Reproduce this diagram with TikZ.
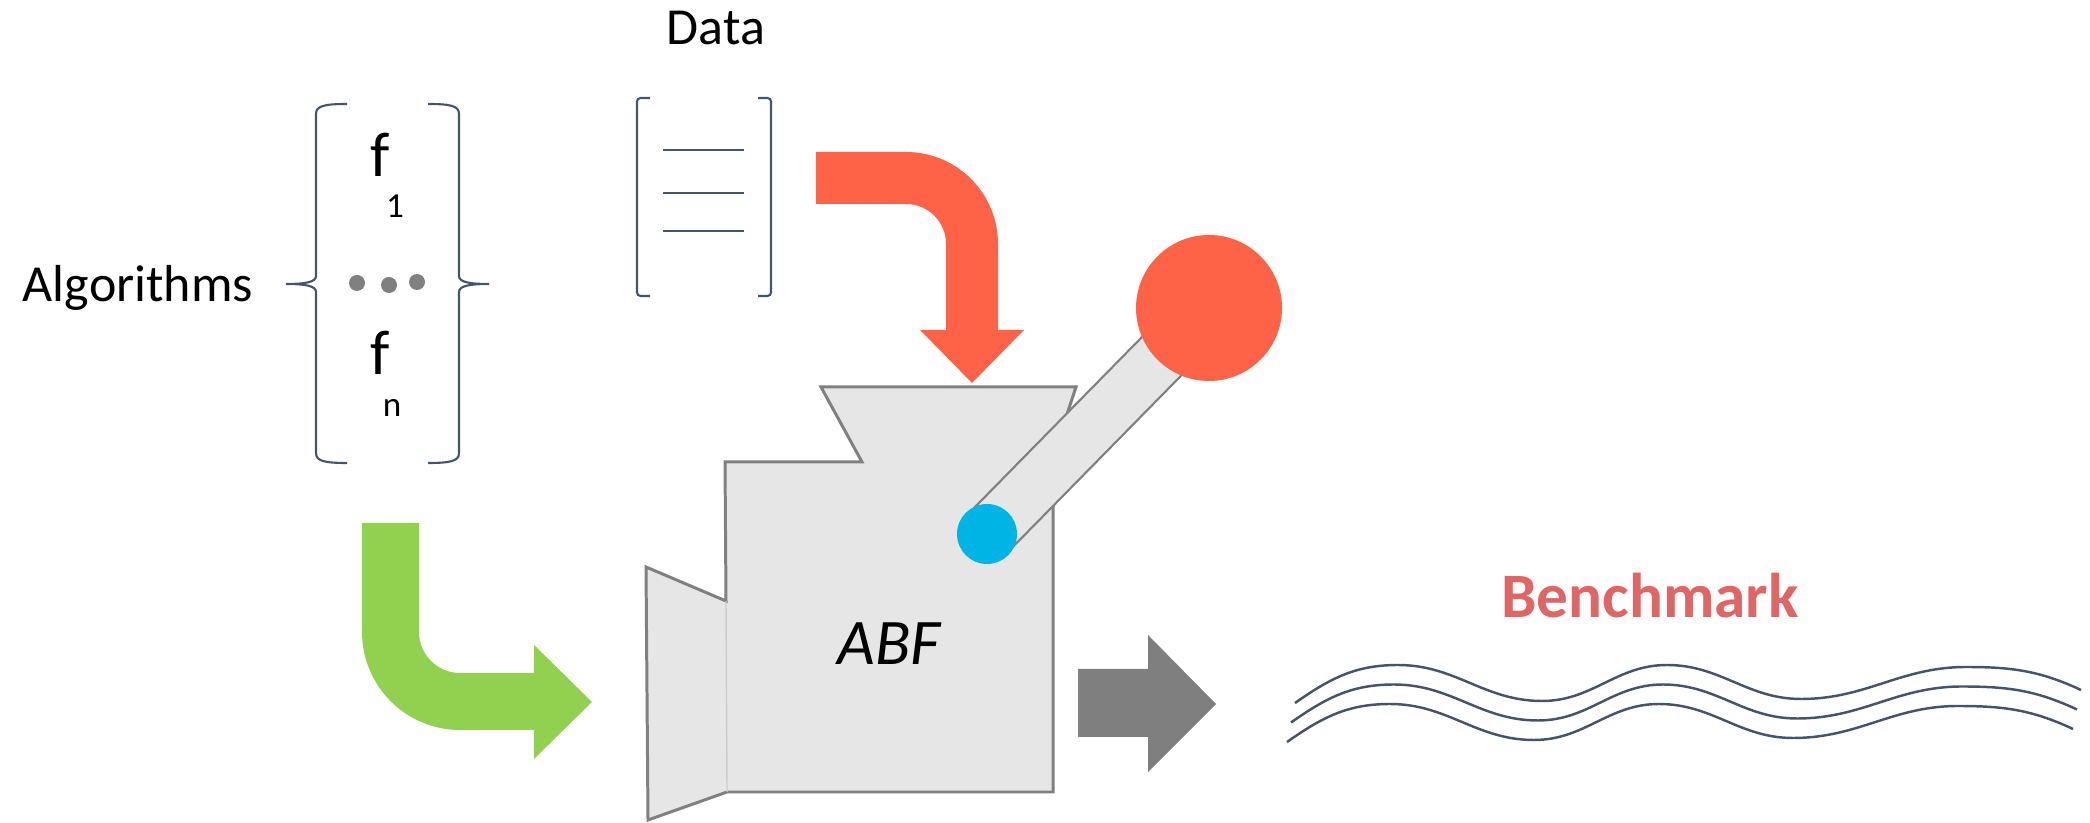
\documentclass[tikz,border=0pt]{standalone}
\usepackage{fontspec}
\setmainfont{Carlito}
\usepackage{tikz}
\usetikzlibrary{calc}
\definecolor{slate}{RGB}{68,84,106}
\definecolor{tomatored}{RGB}{255,99,71}
\definecolor{leafgreen}{RGB}{146,208,80}
\definecolor{midgray}{RGB}{127,127,127}
\definecolor{bodyfill}{RGB}{230,230,230}
\definecolor{bodyline}{RGB}{128,128,128}
\definecolor{pivotblue}{RGB}{0,180,230}
\definecolor{benchred}{RGB}{224,102,102}
\tikzset{
  lbl/.style={font=\fontsize{14.8}{17}\selectfont, inner sep=0pt, anchor=base},
  fsym/.style={font=\fontsize{18}{21}\selectfont, inner sep=0pt, anchor=base},
  fidx/.style={font=\fontsize{10}{12}\selectfont, inner sep=0pt, anchor=base},
  dotc/.style={circle, fill=bodyline, minimum size=1.6mm, inner sep=0pt},
  brk/.style={draw=slate, line width=0.6pt},
  machine/.style={fill=bodyfill, draw=bodyline, line width=0.85pt},
  lever/.style={fill=bodyfill, draw=bodyline, line width=0.6pt},
  knobc/.style={circle, fill=tomatored, minimum size=14.6mm, inner sep=0pt},
  pivotc/.style={circle, fill=pivotblue, minimum size=6mm, inner sep=0pt},
  wave/.style={draw=slate, line width=0.7pt}
}

\begin{document}
\begin{tikzpicture}
  \useasboundingbox (0,0) rectangle (20.90,8.23);

  % algorithm set
  \node[lbl] (alg) at (1.38,5.21) {Algorithms};
  \draw[brk] (3.47,7.19) .. controls (3.24,7.19) and (3.16,7.17) .. (3.16,7.09)
    -- (3.16,5.47) .. controls (3.16,5.41) and (3.06,5.39) .. (2.86,5.39)
    .. controls (3.06,5.39) and (3.16,5.37) .. (3.16,5.31)
    -- (3.16,3.70) .. controls (3.16,3.62) and (3.24,3.60) .. (3.47,3.60);
  \draw[brk] (4.28,7.19) .. controls (4.51,7.19) and (4.59,7.17) .. (4.59,7.09)
    -- (4.59,5.47) .. controls (4.59,5.41) and (4.69,5.39) .. (4.89,5.39)
    .. controls (4.69,5.39) and (4.59,5.37) .. (4.59,5.31)
    -- (4.59,3.70) .. controls (4.59,3.62) and (4.51,3.60) .. (4.28,3.60);
  \node[fsym] (f1) at (3.80,6.46) {f};
  \node[fidx] (i1) at (3.95,6.05) {1};
  \node[dotc] (d1) at (3.57,5.40) {};
  \node[dotc] (d2) at (3.89,5.38) {};
  \node[dotc] (d3) at (4.17,5.41) {};
  \node[fsym] (fn) at (3.80,4.48) {f};
  \node[fidx] (in) at (3.92,4.06) {n};

  % data set
  \node[lbl] (data) at (7.16,7.78) {Data};
  \draw[brk, rounded corners=1pt] (6.50,7.25) -- (6.37,7.25) -- (6.37,5.27) -- (6.50,5.27);
  \draw[brk, rounded corners=1pt] (7.58,7.25) -- (7.71,7.25) -- (7.71,5.27) -- (7.58,5.27);
  \foreach \y in {6.73,6.30,5.92}
    \draw[brk] (6.63,\y) -- (7.44,\y);

  % feed arrows
  \fill[tomatored] (8.16,6.71) -- (9.06,6.71) arc (90:0:0.92) -- (9.98,4.93)
    -- (10.24,4.93) -- (9.72,4.40) -- (9.20,4.93) -- (9.46,4.93)
    -- (9.46,5.79) arc (0:90:0.40) -- (8.16,6.19) -- cycle;
  \fill[leafgreen] (3.62,3.00) -- (4.19,3.00) -- (4.19,1.91) arc (180:270:0.41)
    -- (5.34,1.50) -- (5.34,1.78) -- (5.92,1.21) -- (5.34,0.64) -- (5.34,0.93)
    -- (4.60,0.93) arc (270:180:0.98) -- cycle;

  % the machine
  \draw[machine] (7.25,3.61) -- (8.62,3.61) -- (8.21,4.36) -- (10.76,4.36)
    -- (10.53,3.67) -- (10.53,0.31) -- (7.27,0.31) -- (6.48,0.03)
    -- (6.46,2.56) -- (7.26,2.22) -- cycle;
  \draw[draw=bodyline!40, line width=0.4pt] (7.26,2.22) -- (7.27,0.31);
  \node[font=\fontsize{18.5}{22}\selectfont\itshape, inner sep=0pt, anchor=base] (abf) at (8.89,1.58) {ABF};

  % lever
  \coordinate (pivot) at (9.87,2.89);
  \coordinate (knob) at (12.09,5.15);
  \draw[lever] ($(pivot)!2.75mm!90:(knob)$) -- ($(knob)!2.75mm!-90:(pivot)$)
    -- ($(knob)!2.75mm!90:(pivot)$) -- ($(pivot)!2.75mm!-90:(knob)$) -- cycle;
  \node[knobc] (ball) at (knob) {};
  \node[pivotc] (hub) at (pivot) {};

  % output
  \fill[midgray] (10.78,1.54) -- (11.48,1.54) -- (11.48,1.88) -- (12.16,1.19)
    -- (11.48,0.51) -- (11.48,0.86) -- (10.78,0.86) -- cycle;
  \node[font=\fontsize{18}{21}\selectfont\bfseries, text=benchred, inner sep=0pt, anchor=base] (bench) at (16.50,2.05) {Benchmark};
  \foreach \i in {0,1,2}
    \draw[wave, shift={(-0.04*\i,-0.195*\i)}] (12.95,1.20) to[out=35,in=180] (13.98,1.58)
      to[out=0,in=180] (15.42,1.22) to[out=0,in=180] (16.67,1.58)
      to[out=0,in=180] (18.01,1.24) to[out=0,in=180] (19.66,1.56)
      to[out=0,in=155] (20.81,1.33);
\end{tikzpicture}
\end{document}
